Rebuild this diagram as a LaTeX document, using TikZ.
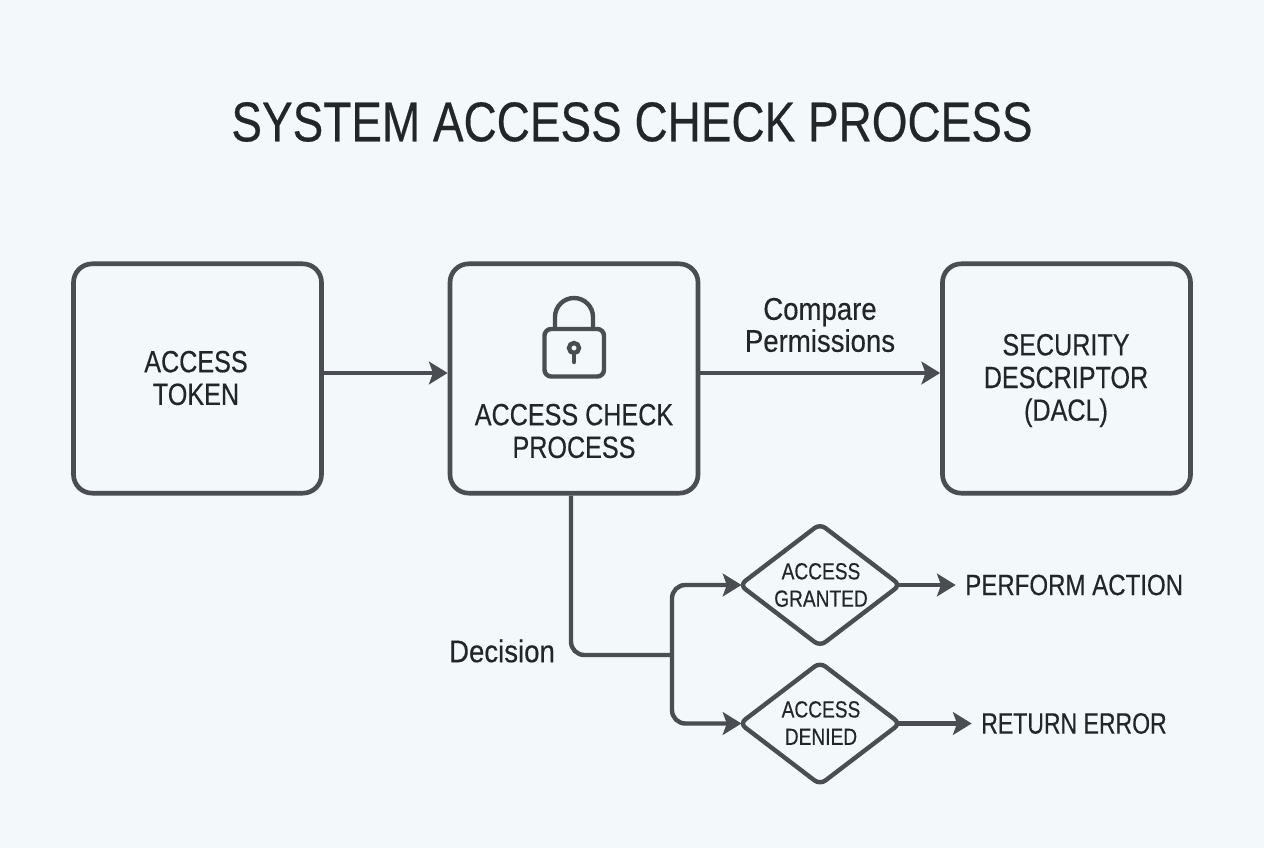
\documentclass[tikz,border=0pt]{standalone}
\usepackage{fontspec}
\setmainfont{Liberation Sans}
\newfontfamily\capsfont[FakeStretch=0.82,FakeBold=0.35]{Liberation Sans}
\newfontfamily\tightfont[FakeStretch=0.785,FakeBold=0.35]{Liberation Sans}
\newfontfamily\lowerfont[FakeStretch=0.88,FakeBold=0.35]{Liberation Sans}
\usetikzlibrary{arrows.meta,shapes.geometric}
\definecolor{bgc}{HTML}{F3F8FB}
\definecolor{linec}{HTML}{4A4E52}
\definecolor{textc}{HTML}{232629}
\tikzset{
  x=0.75pt,y=-0.75pt,
  box/.style={draw=linec,line width=3.5pt,rounded corners=14pt,minimum width=186pt,minimum height=172pt,inner sep=0pt,fill=bgc},
  dia/.style={draw=linec,line width=3.3pt,diamond,rounded corners=5pt,minimum width=121.5pt,minimum height=93pt,inner sep=0pt,fill=bgc},
  boxtext/.style={font=\capsfont\fontsize{23}{24.5}\selectfont,text=textc,align=center,inner sep=0pt},
  diatext/.style={font=\capsfont\fontsize{17.5}{20.5}\selectfont,text=textc,align=center,inner sep=0pt},
  free/.style={font=\capsfont\fontsize{22}{24}\selectfont,text=textc,align=center,inner sep=0pt},
  lowertext/.style={font=\lowerfont\fontsize{23.5}{24}\selectfont,text=textc,align=center,inner sep=0pt},
  conn/.style={draw=linec,line width=3.3pt,-{Stealth[length=14pt,width=17pt,inset=3pt]}},
  trunk/.style={draw=linec,line width=3.3pt,rounded corners=10pt},
  icon/.style={draw=linec,line width=3.3pt},
  fromdia/.style={shorten <=-5pt},
  todia/.style={shorten >=-3.5pt},
}
\begin{document}
\begin{tikzpicture}
\fill[bgc] (0,0) rectangle (1264,848);
\useasboundingbox (0,0) rectangle (1264,848);
\node[font=\capsfont\fontsize{42}{46}\selectfont,text=textc,inner sep=0pt] (title) at (632,122) {SYSTEM ACCESS CHECK PROCESS};
\node[box] (token) at (197.5,378.5) {};
\node[box] (check) at (574,378.5) {};
\node[box] (desc) at (1066.5,378.5) {};
\node[boxtext] (tokentext) at (196,378) {ACCESS\\TOKEN};
\node[boxtext] (checktext) at (574,431) {ACCESS CHECK\\PROCESS};
\node[boxtext] (desctext) at (1066,380.5) {SECURITY\\DESCRIPTOR\\(DACL)};
\draw[icon,rounded corners=5pt] (544.5,329) rectangle (604,376.5);
\draw[icon] (555,329) -- (555,317) arc[start angle=180,end angle=360,radius=19] -- (593,329);
\draw[icon] (574,348) circle[radius=5];
\draw[icon,line cap=round] (574,353) -- (574,362);
\node[dia] (granted) at (820,585) {};
\node[dia] (denied) at (820,723.5) {};
\node[diatext] (grantedtext) at (821,585) {ACCESS\\GRANTED};
\node[diatext] (deniedtext) at (821,723) {ACCESS\\DENIED};
\node[free,anchor=west] (perform) at (965,585) {PERFORM ACTION};
\node[free,font=\tightfont\fontsize{22}{24}\selectfont,anchor=west] (error) at (981,723.5) {RETURN ERROR};
\node[lowertext] (compare) at (820,325) {Compare\\Permissions};
\node[lowertext] (decision) at (502,651) {Decision};
\coordinate (row) at (0,373);
\coordinate (split) at (672,655);
\draw[conn] (token.east |- row) -- (check.west |- row);
\draw[conn] (check.east |- row) -- (desc.west |- row);
\draw[trunk] (check.south -| 571,0) -- (571,655) -- (split);
\draw[conn,todia,rounded corners=10pt] (split) -- (split |- granted.west) -- (granted.west);
\draw[conn,todia,rounded corners=10pt] (split) -- (split |- denied.west) -- (denied.west);
\draw[conn,fromdia,shorten >=7pt] (granted.east) -- (perform.west);
\draw[conn,fromdia,shorten >=7pt] (denied.east) -- (error.west);
\end{tikzpicture}
\end{document}
